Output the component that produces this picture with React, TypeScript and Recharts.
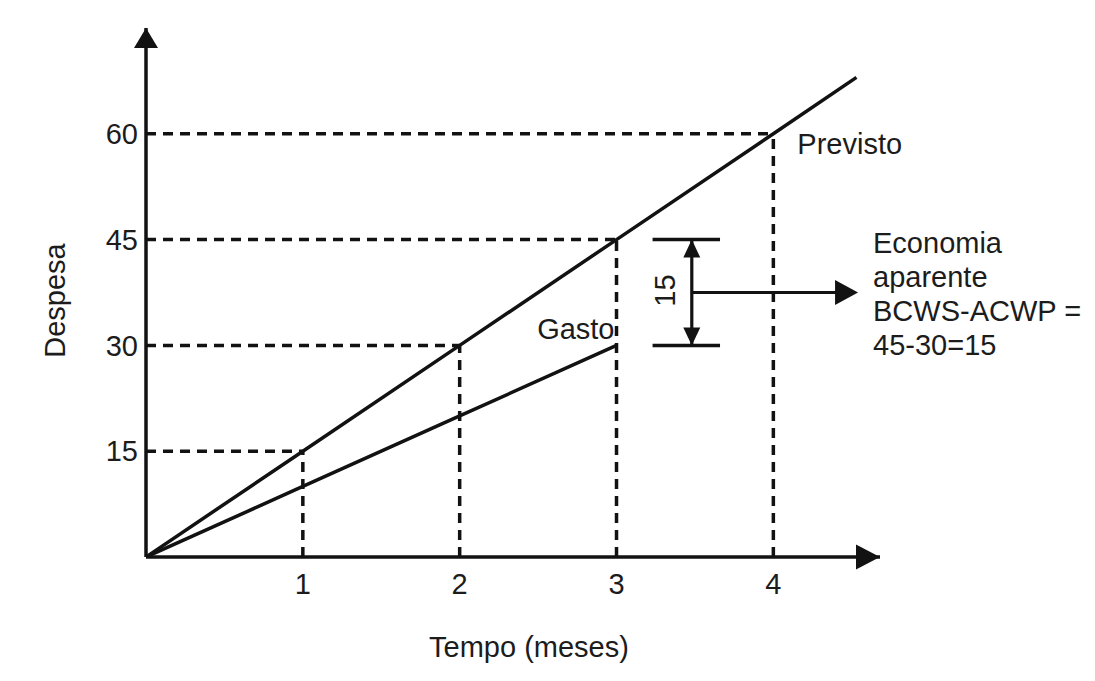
import React from "react";
import { LineChart, Line, XAxis, YAxis, ReferenceLine, ReferenceDot } from "recharts";

// curva prevista (BCWS) e gasto real (ACWP), despesa por mês
const previsto = [
  { x: 0, y: 0 },
  { x: 1, y: 15 },
  { x: 2, y: 30 },
  { x: 3, y: 45 },
  { x: 4, y: 60 },
  { x: 4.53, y: 68 },
];
const gasto = [
  { x: 0, y: 0 },
  { x: 1, y: 10 },
  { x: 2, y: 20 },
  { x: 3, y: 30 },
];
const xTicks = [1, 2, 3, 4];
const yTicks = [15, 30, 45, 60];
// pontos ligados aos eixos por tracejado
const marcos = [
  { x: 1, y: 15 },
  { x: 2, y: 30 },
  { x: 3, y: 45 },
  { x: 4, y: 60 },
];
const bcws = 45;
const acwp = 30;
const economia = ["Economia", "aparente", "BCWS-ACWP =", "45-30=15"];

const FONT = "'Liberation Sans', Arial, Helvetica, sans-serif";
const INK = "#121212";
const TXT = "#1c1c1c";
const FS = 29;

const arrowHead = (dir: string, len: number, half: number) => (props: any) => {
  const { cx, cy } = props;
  let pts = "";
  if (dir === "up") pts = `${cx},${cy} ${cx - half},${cy + len} ${cx + half},${cy + len}`;
  if (dir === "down") pts = `${cx},${cy} ${cx - half},${cy - len} ${cx + half},${cy - len}`;
  if (dir === "right") pts = `${cx},${cy} ${cx - len},${cy - half} ${cx - len},${cy + half}`;
  return <polygon points={pts} fill={INK} />;
};

const textShape =
  (lines: string[], dx: number, dy: number, anchor = "start", angle = 0, step = 34) =>
  (props: any) => {
    const x = props.cx + dx;
    const y = props.cy + dy;
    return (
      <text
        x={x}
        y={y}
        fill={TXT}
        fontSize={FS}
        fontFamily={FONT}
        textAnchor={anchor}
        transform={angle ? `rotate(${angle} ${x} ${y})` : undefined}
      >
        {lines.map((l, i) => (
          <tspan key={i} x={x} dy={i === 0 ? 0 : step}>
            {l}
          </tspan>
        ))}
      </text>
    );
  };

export default function App() {
  const capFrom = 3.23;
  const capTo = 3.66;
  const bracketX = 3.48;
  const arrowY = (bcws + acwp) / 2;
  const arrowTip = 4.54;

  return (
    <div style={{ position: "absolute", left: 0, top: 0, width: 1095, height: 681, background: "#fff" }}>
      <LineChart width={1095} height={681} margin={{ top: 28, right: 215, bottom: 0, left: 0 }}>
        <XAxis
          type="number"
          dataKey="x"
          domain={[0, 4.68]}
          ticks={xTicks}
          tickLine={false}
          tickSize={0}
          tickMargin={16}
          height={124}
          axisLine={{ stroke: INK, strokeWidth: 3.5 }}
          tick={{ fill: TXT, fontSize: FS, fontFamily: FONT }}
          allowDataOverflow
          label={{
            value: "Tempo (meses)",
            position: "center",
            dx: 16,
            dy: 28,
            fill: TXT,
            fontSize: FS,
            fontFamily: FONT,
          }}
        />
        <YAxis
          type="number"
          dataKey="y"
          domain={[0, 75]}
          ticks={yTicks}
          tickLine={false}
          tickSize={0}
          tickMargin={8}
          width={146}
          axisLine={{ stroke: INK, strokeWidth: 3.5 }}
          tick={{ fill: TXT, fontSize: FS, fontFamily: FONT }}
          allowDataOverflow
          label={{
            value: "Despesa",
            angle: -90,
            position: "center",
            dx: -18,
            dy: 8,
            fill: TXT,
            fontSize: FS,
            fontFamily: FONT,
          }}
        />

        {marcos.map((m) => (
          <ReferenceLine
            key={"h" + m.x}
            segment={[
              { x: 0, y: m.y },
              { x: m.x, y: m.y },
            ]}
            stroke={INK}
            strokeWidth={3.5}
            strokeDasharray="10 7"
          />
        ))}
        {marcos.map((m) => (
          <ReferenceLine
            key={"v" + m.x}
            segment={[
              { x: m.x, y: 0 },
              { x: m.x, y: m.y },
            ]}
            stroke={INK}
            strokeWidth={3.5}
            strokeDasharray="10 7"
          />
        ))}

        <Line
          data={previsto}
          dataKey="y"
          type="linear"
          stroke={INK}
          strokeWidth={3.5}
          dot={false}
          activeDot={false}
          isAnimationActive={false}
        />
        <Line
          data={gasto}
          dataKey="y"
          type="linear"
          stroke={INK}
          strokeWidth={3.5}
          dot={false}
          activeDot={false}
          isAnimationActive={false}
        />

        {/* colchete da diferença BCWS - ACWP */}
        <ReferenceLine segment={[{ x: capFrom, y: bcws }, { x: capTo, y: bcws }]} stroke={INK} strokeWidth={3.5} />
        <ReferenceLine segment={[{ x: capFrom, y: acwp }, { x: capTo, y: acwp }]} stroke={INK} strokeWidth={3.5} />
        <ReferenceLine segment={[{ x: bracketX, y: acwp }, { x: bracketX, y: bcws }]} stroke={INK} strokeWidth={3.2} />
        <ReferenceLine segment={[{ x: bracketX, y: arrowY }, { x: arrowTip - 0.08, y: arrowY }]} stroke={INK} strokeWidth={3.2} />

        <ReferenceDot x={bracketX} y={bcws} ifOverflow="visible" shape={arrowHead("up", 18, 8.5)} />
        <ReferenceDot x={bracketX} y={acwp} ifOverflow="visible" shape={arrowHead("down", 18, 8.5)} />
        <ReferenceDot x={arrowTip} y={arrowY} ifOverflow="visible" shape={arrowHead("right", 23, 12.5)} />

        {/* setas dos eixos */}
        <ReferenceDot x={0} y={75} ifOverflow="visible" shape={arrowHead("up", 20, 12)} />
        <ReferenceDot x={4.68} y={0} ifOverflow="visible" shape={arrowHead("right", 24, 12.5)} />

        {/* rótulos */}
        <ReferenceDot x={4} y={60} ifOverflow="visible" shape={textShape(["Previsto"], 24, 20)} />
        <ReferenceDot x={3} y={30} ifOverflow="visible" shape={textShape(["Gasto"], -2, -6, "end")} />
        <ReferenceDot x={bracketX} y={arrowY} ifOverflow="visible" shape={textShape(["15"], -17, -2, "middle", -90)} />
        <ReferenceDot x={arrowTip} y={arrowY} ifOverflow="visible" shape={textShape(economia, 15, -40)} />
      </LineChart>
    </div>
  );
}
